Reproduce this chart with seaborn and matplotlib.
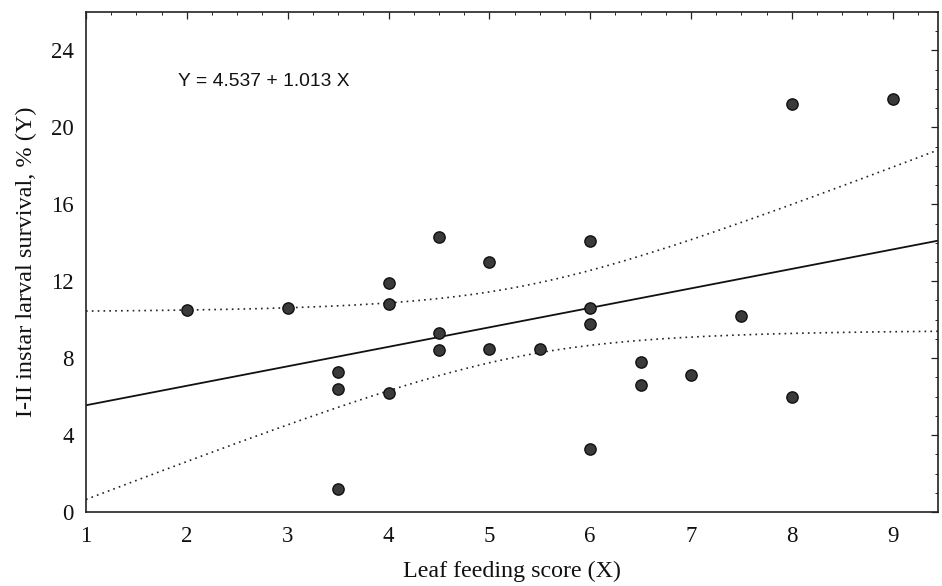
import numpy as np
import pandas as pd
import matplotlib
matplotlib.use("Agg")
import matplotlib.pyplot as plt
from matplotlib.ticker import MultipleLocator
import seaborn as sns

# Data
leaf_score = [2, 3, 3.5, 3.5, 3.5, 4, 4, 4, 4.5, 4.5, 4.5, 5, 5, 5.5,
              6, 6, 6, 6, 6.5, 6.5, 7, 7.5, 8, 8, 9]
survival = [10.5, 10.6, 7.3, 6.4, 1.2, 11.9, 10.8, 6.2, 14.3, 9.3, 8.4, 13.0, 8.5, 8.5,
            14.1, 10.6, 9.8, 3.3, 7.8, 6.6, 7.1, 10.2, 21.2, 6.0, 21.5]
intercept = 4.537
slope = 1.013
t_crit = 2.069  # t(0.975, df=23)
x_ticks = [1, 2, 3, 4, 5, 6, 7, 8, 9]
y_ticks = [0, 4, 8, 12, 16, 20, 24]
equation = "Y = 4.537 + 1.013 X"

sns.set_theme(style="white")
plt.rcParams['font.family'] = ['Liberation Serif', 'DejaVu Serif']

df = pd.DataFrame({"x": leaf_score, "y": survival})
x = np.asarray(leaf_score, float)
y = np.asarray(survival, float)
n = len(x)
resid = y - (intercept + slope * x)
s = np.sqrt(np.sum(resid ** 2) / (n - 2))
xbar = x.mean()
sxx = np.sum((x - xbar) ** 2)

xlim = (1, 9.45)
ylim = (0, 26)
xs = np.linspace(xlim[0], xlim[1], 200)
fit = intercept + slope * xs
half = t_crit * s * np.sqrt(1.0 / n + (xs - xbar) ** 2 / sxx)
line_df = pd.DataFrame({"x": xs, "fit": fit, "lo": fit - half, "hi": fit + half})

fig = plt.figure(figsize=(9.42, 5.86), dpi=100)
ax = fig.add_axes([0.0913, 0.1263, 0.9045, 0.8532])

sns.lineplot(data=line_df, x="x", y="fit", ax=ax, color="#111111", lw=1.3)
sns.lineplot(data=line_df, x="x", y="lo", ax=ax, color="#222222", lw=1.2, linestyle=(0, (1, 2.5)))
sns.lineplot(data=line_df, x="x", y="hi", ax=ax, color="#222222", lw=1.2, linestyle=(0, (1, 2.5)))
sns.scatterplot(data=df, x="x", y="y", ax=ax, s=66, color="#3a3a3a",
                edgecolor="#111111", linewidth=1.0, zorder=5)

ax.set_xlim(*xlim)
ax.set_ylim(*ylim)
ax.set_xticks(x_ticks)
ax.set_yticks(y_ticks)
ax.xaxis.set_minor_locator(MultipleLocator(0.25))
ax.yaxis.set_minor_locator(MultipleLocator(1))
ax.tick_params(axis="both", which="both", direction="in", top=True, right=True,
               colors="#222222", labelcolor="#111111")
ax.tick_params(axis="both", which="major", length=5, width=0.9, labelsize=16.5)
ax.tick_params(axis="both", which="minor", length=2.5, width=0.7)
ax.tick_params(axis="x", which="major", pad=10)
ax.tick_params(axis="y", which="major", pad=9)
for sp in ax.spines.values():
    sp.set_color("#222222")
    sp.set_linewidth(1.2)

ax.set_xlabel("Leaf feeding score (X)", fontsize=17.3, color="#111111", labelpad=10)
ax.set_ylabel("I-II instar larval survival, % (Y)", fontsize=17.5, color="#111111", labelpad=10)

ax.text(1.91, 22.4, equation, fontsize=13.9, family=['Liberation Sans', 'DejaVu Sans'],
        color="#111111", va="center", ha="left")

fig.savefig("out.png", dpi=100)
